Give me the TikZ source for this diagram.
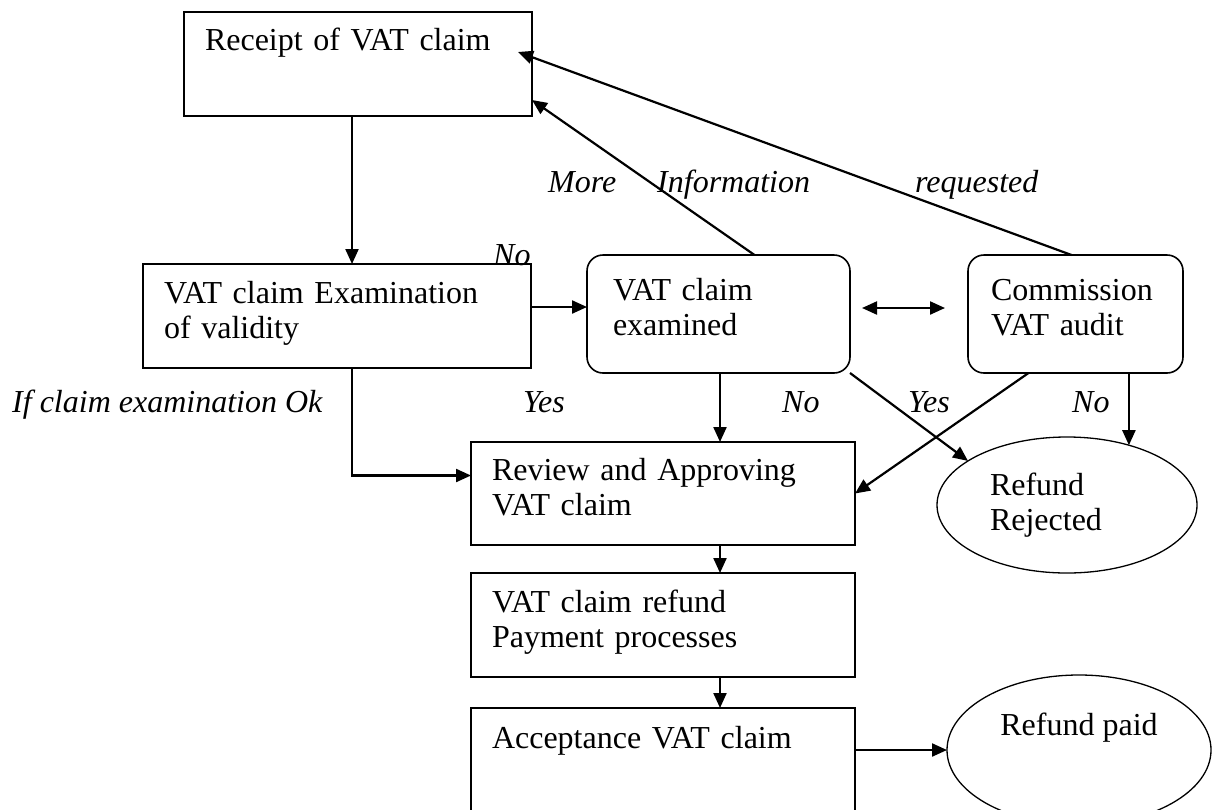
\documentclass[tikz,border=0pt]{standalone}
\usepackage{fontspec}
\setmainfont{Liberation Serif}
\usetikzlibrary{arrows.meta,shapes.geometric}

\begin{document}
\begin{tikzpicture}[x=1pt,y=-1pt]%[scale=1]
  \fontsize{32}{35.5}\selectfont
  \tikzset{
    VatTip/.tip={Triangle[length=15pt,width=13pt]},
    BoxStyle/.style={draw,line width=1.6pt,anchor=north west,outer sep=0pt,
      inner xsep=21pt,inner ysep=0pt,align=left,text height=38pt},
    RoundStyle/.style={BoxStyle,rounded corners=16pt,inner xsep=24pt,text height=45pt,text depth=73pt},
    EndStyle/.style={draw,ellipse,line width=1.3pt,inner sep=0pt,outer sep=0pt,align=left},
    EdgeStyle/.style={line width=2.2pt,-VatTip},
    NoteStyle/.style={anchor=base west,inner sep=0pt,font=\itshape}
  }
  \useasboundingbox (0,0) rectangle (1214,809);
  \clip (0,0) rectangle (1214,809);
  % steps
  \node[BoxStyle,text width=306pt,text depth=66pt] (receipt) at (184,12) {Receipt of VAT claim};
  \node[BoxStyle,text width=346pt,text height=39pt,text depth=65pt] (valid) at (143,264) {VAT claim Examination\\of validity};
  \node[RoundStyle,inner xsep=26pt,text width=211pt] (examined) at (587,255) {VAT claim\\examined};
  \node[RoundStyle,inner xsep=23pt,text width=169pt] (audit) at (968,255) {Commission\\VAT audit};
  \node[BoxStyle,text width=342pt,text depth=65pt] (review) at (471,442) {Review and Approving\\VAT claim};
  \node[BoxStyle,text width=342pt,text height=39pt,text depth=65pt] (payment) at (471,573) {VAT claim refund\\Payment processes};
  \node[BoxStyle,text width=342pt,text height=40pt,text depth=120pt] (accept) at (471,708) {Acceptance VAT claim};
  % end states
  \node[EndStyle,minimum width=260pt,minimum height=136pt,text width=154pt] (rejected) at (1067,505) {Refund\\Rejected};
  \node[EndStyle,minimum width=264pt,minimum height=150pt,text height=23pt,text depth=53pt] (paid) at (1079,750) {Refund paid};
  % labels
  \node[NoteStyle] (more) at (548,192) {More};
  \node[NoteStyle] (info) at (657,192) {Information};
  \node[NoteStyle] (requested) at (915,192) {requested};
  \node[NoteStyle] (noA) at (493,265) {No};
  \node[NoteStyle] (ifok) at (12,412) {If claim examination Ok};
  \node[NoteStyle] (yesA) at (523,412) {Yes};
  \node[NoteStyle] (noB) at (782,412) {No};
  \node[NoteStyle] (yesB) at (908,412) {Yes};
  \node[NoteStyle] (noC) at (1072,412) {No};
  % edges
  \draw[EdgeStyle] ([xshift=-6pt]receipt.south) -- ([xshift=-6pt]receipt.south |- valid.north);
  \draw[EdgeStyle] ([yshift=9pt]valid.east) -- ([yshift=9pt]valid.east -| examined.west);
  \draw[EdgeStyle,VatTip-VatTip] ([xshift=12pt,yshift=6pt]examined.east) -- ([xshift=-23pt,yshift=6pt]audit.west);
  \draw[EdgeStyle] ([xshift=36pt]examined.north) -- ([yshift=-36pt]receipt.east);
  \draw[EdgeStyle] ([xshift=-4pt]audit.north) -- ([xshift=-14pt,yshift=12pt]receipt.east);
  \draw[EdgeStyle] ([xshift=15pt]valid.south) |- ([yshift=18pt]review.west);
  \draw[EdgeStyle] ([xshift=1.5pt]examined.south) -- ([xshift=1.5pt]examined.south |- review.north);
  \draw[EdgeStyle] (examined.south east) -- (rejected.156);
  \draw[EdgeStyle] ([xshift=-47pt]audit.south) -- (review.east);
  \draw[EdgeStyle] (rejected.44.5 |- audit.south) -- (rejected.44.5);
  \draw[EdgeStyle] ([xshift=57pt]review.south) -- ([xshift=57pt]payment.north);
  \draw[EdgeStyle] ([xshift=57pt]payment.south) -- ([xshift=57pt]accept.north);
  \draw[EdgeStyle] (accept.east |- paid.west) -- (paid.west);
\end{tikzpicture}
\end{document}
